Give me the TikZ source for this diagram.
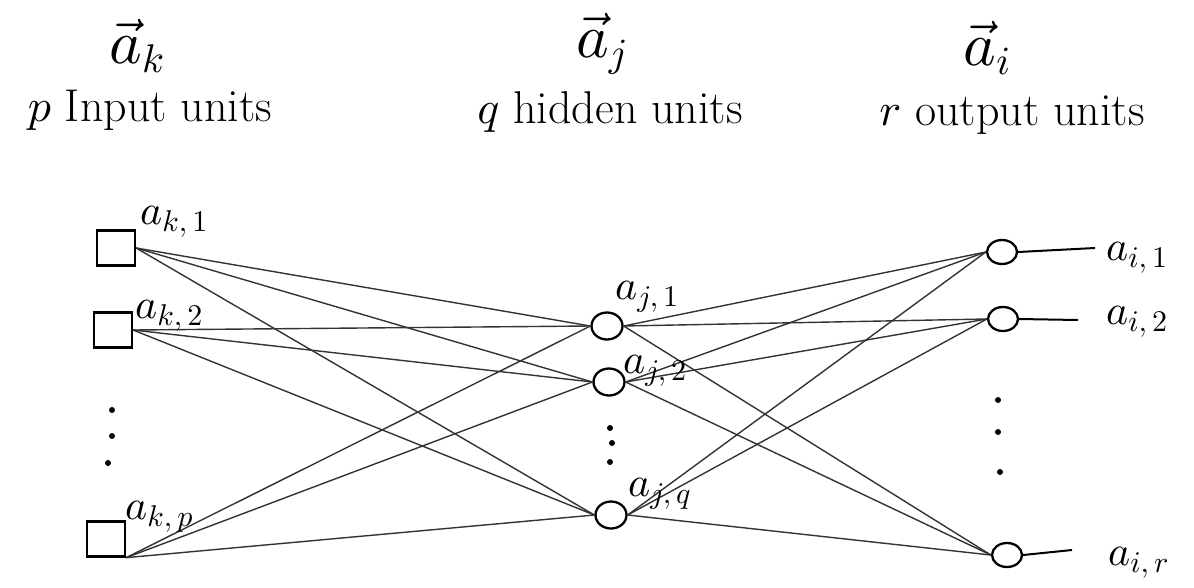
\documentclass[tikz,border=0pt]{standalone}
\DeclareFontShape{OML}{cmm}{m}{it}{<->cmmi10}{}
\DeclareFontShape{OT1}{cmr}{m}{n}{<->cmr10}{}
\DeclareFontShape{OMS}{cmsy}{m}{n}{<->cmsy10}{}
\newcommand{\mysub}[1]{\mbox{\fontsize{30}{32}\selectfont$#1$}}
\newcommand{\mybigsub}[1]{\mbox{\fontsize{40}{44}\selectfont$#1$}}
\usetikzlibrary{shapes.geometric}
\begin{document}
\begin{tikzpicture}[x=1pt,y=-1pt,
  inunit/.style={draw,line width=2.3pt,minimum width=38pt,minimum height=35pt,inner sep=0pt},
  hidunit/.style={draw,ellipse,line width=2.3pt,minimum width=31pt,minimum height=27pt,inner sep=0pt},
  outunit/.style={draw,ellipse,line width=2.3pt,minimum width=30pt,minimum height=24pt,inner sep=0pt},
  conn/.style={line width=1.4pt,black!80},
  outline/.style={line width=2pt},
  lbl/.style={font=\fontsize{42}{46}\selectfont,inner sep=0pt},
  head/.style={font=\fontsize{46}{50}\selectfont,inner sep=0pt},
  vhead/.style={font=\fontsize{62}{66}\selectfont,inner sep=0pt},
  dotmark/.style={circle,fill,inner sep=0pt,minimum size=6pt}]
\useasboundingbox (0,0) rectangle (1194,587);
% headers
\node[vhead] (vk) at (137,46) {$\vec{a}_{\mybigsub{k}}$};
\node[head] (tk) at (150,110) {$p$ Input units};
\node[vhead] (vj) at (602,44) {$\vec{a}_{\mybigsub{j}}$};
\node[head] (tj) at (610,112) {$q$ hidden units};
\node[vhead] (vi) at (987,48) {$\vec{a}_{\mybigsub{i}}$};
\node[head] (ti) at (1012,115) {$r$ output units};
% units
\node[inunit] (k1) at (116,248) {};
\node[inunit] (k2) at (113,330) {};
\node[inunit] (kp) at (106,539) {};
\node[hidunit] (j1) at (607,326) {};
\node[hidunit] (j2) at (609,382) {};
\node[hidunit] (jq) at (611,515) {};
\node[outunit] (i1) at (1002,252) {};
\node[outunit] (i2) at (1003,319) {};
\node[outunit] (ir) at (1007,555) {};
% dots
\node[dotmark] (dk1) at (112,410) {};
\node[dotmark] (dk2) at (112,436) {};
\node[dotmark] (dk3) at (108,463) {};
\node[dotmark] (dj1) at (610,428) {};
\node[dotmark] (dj2) at (612,443) {};
\node[dotmark] (dj3) at (610,462) {};
\node[dotmark] (di1) at (998,400) {};
\node[dotmark] (di2) at (998,432) {};
\node[dotmark] (di3) at (1000,472) {};
% connections input -> hidden
\foreach \b in {j1,j2,jq} {
  \draw[conn] (k1.east) -- (\b.west);
  \draw[conn] (k2.east) -- (\b.west);
  \draw[conn] (kp.south east) -- (\b.west);
}
% connections hidden -> output
\foreach \a in {j1,j2,jq} {
  \foreach \b in {i1,i2,ir} {
    \draw[conn] (\a.east) -- (\b.west);
  }
}
% output lines
\coordinate (o1) at (1095,248);
\coordinate (o2) at (1078,320);
\coordinate (or) at (1072,550);
\draw[outline] (i1.east) -- (o1);
\draw[outline] (i2.east) -- (o2);
\draw[outline] (ir.east) -- (or);
% labels
\node[lbl,anchor=west] (lk1) at (140,222) {$a_{\mysub{k,1}}$};
\node[lbl,anchor=west] (lk2) at (135,316) {$a_{\mysub{k,2}}$};
\node[lbl,anchor=west] (lkp) at (125,517) {$a_{\mysub{k,p}}$};
\node[lbl,anchor=west] (lj1) at (615,297) {$a_{\mysub{j,1}}$};
\node[lbl,anchor=west] (lj2) at (623,371) {$a_{\mysub{j,2}}$};
\node[lbl,anchor=west] (ljq) at (628,494) {$a_{\mysub{j,q}}$};
\node[lbl,anchor=west] (li1) at (1106,258) {$a_{\mysub{i,1}}$};
\node[lbl,anchor=west] (li2) at (1106,322) {$a_{\mysub{i,2}}$};
\node[lbl,anchor=west] (lir) at (1108,563) {$a_{\mysub{i,r}}$};
\end{tikzpicture}
\end{document}
